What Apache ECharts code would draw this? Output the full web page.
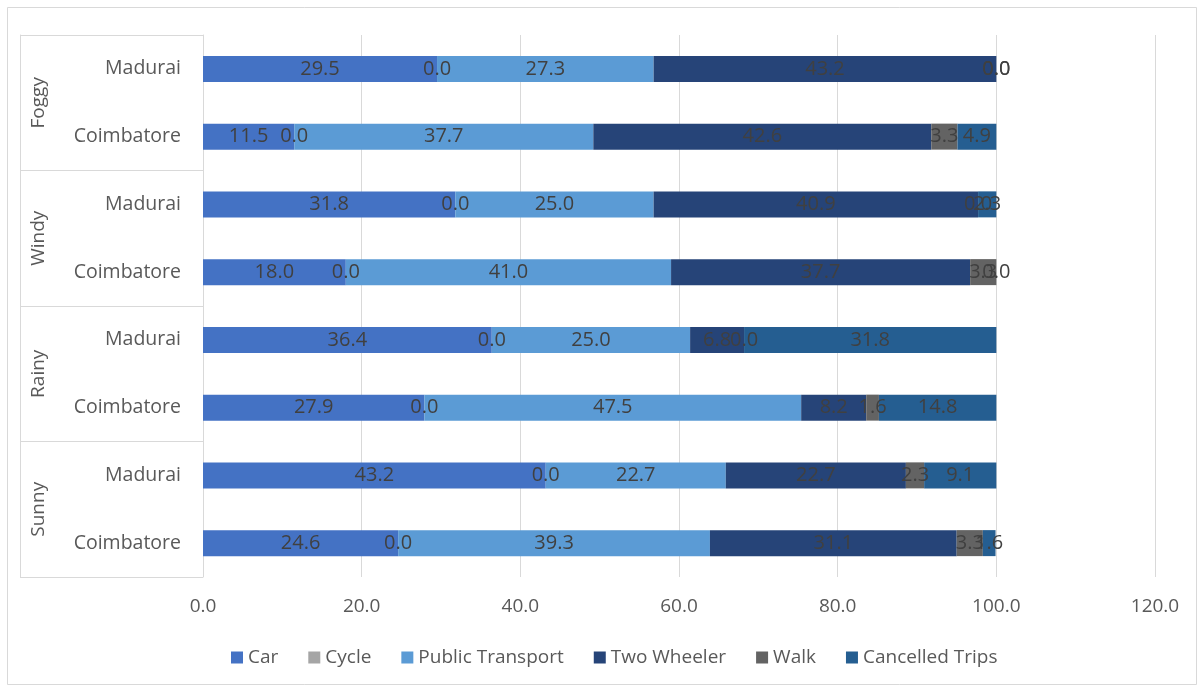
<!DOCTYPE html>
<html>
<head>
<meta charset="utf-8">
<script src="https://cdn.jsdelivr.net/npm/echarts@6/dist/echarts.min.js"></script>
<style>
  html, body { margin: 0; padding: 0; background: #fff; }
  #chart { width: 1203px; height: 689px; }
</style>
</head>
<body>
<div id="chart"></div>
<script>
// Rows from bottom to top: each weather group holds Coimbatore then Madurai
const cities = ['Coimbatore', 'Madurai', 'Coimbatore', 'Madurai', 'Coimbatore', 'Madurai', 'Coimbatore', 'Madurai'];
const weather = ['Sunny', 'Rainy', 'Windy', 'Foggy'];
const xTicks = [0, 20, 40, 60, 80, 100, 120];

// Mode share (%) per row
const car            = [24.6, 43.2, 27.9, 36.4, 18.0, 31.8, 11.5, 29.5];
const cycle          = [0.0, 0.0, 0.0, 0.0, 0.0, 0.0, 0.0, 0.0];
const publicTransport= [39.3, 22.7, 47.5, 25.0, 41.0, 25.0, 37.7, 27.3];
const twoWheeler     = [31.1, 22.7, 8.2, 6.8, 37.7, 40.9, 42.6, 43.2];
const walk           = [3.3, 2.3, 1.6, 0.0, 3.3, 0.0, 3.3, 0.0];
const cancelled      = [1.6, 9.1, 14.8, 31.8, 0.0, 2.3, 4.9, 0.0];

const seriesDefs = [
  { name: 'Car', data: car, color: '#4472C4' },
  { name: 'Cycle', data: cycle, color: '#A5A5A5' },
  { name: 'Public Transport', data: publicTransport, color: '#5B9BD5' },
  { name: 'Two Wheeler', data: twoWheeler, color: '#264478' },
  { name: 'Walk', data: walk, color: '#636363' },
  { name: 'Cancelled Trips', data: cancelled, color: '#255E91' }
];

const textFont = '"Open Sans", "Noto Sans", sans-serif';

const chart = echarts.init(document.getElementById('chart'), null, { renderer: 'canvas' });

chart.setOption({
  animation: false,
  backgroundColor: '#fff',
  color: seriesDefs.map(s => s.color),
  graphic: [{
    type: 'rect',
    shape: { x: 7.5, y: 7.5, width: 1189, height: 677 },
    style: { fill: 'none', stroke: '#d9d9d9', lineWidth: 1 },
    silent: true
  }],
  grid: { left: 203, right: 48, top: 35, bottom: 112, containLabel: false },
  legend: {
    top: 643,
    left: 226,
    itemWidth: 12,
    itemHeight: 12,
    itemGap: 30,
    icon: 'rect',
    textStyle: { color: '#595959', fontSize: 19, fontFamily: textFont },
    data: seriesDefs.map(s => s.name)
  },
  xAxis: {
    type: 'value',
    min: 0,
    max: 120,
    interval: 20,
    axisLine: { show: false },
    axisTick: { show: false },
    splitLine: { show: true, lineStyle: { color: '#d9d9d9', width: 1 } },
    axisLabel: {
      color: '#595959',
      fontSize: 19,
      fontFamily: textFont,
      margin: 20,
      customValues: xTicks,
      formatter: v => v.toFixed(1)
    }
  },
  yAxis: [
    {
      type: 'category',
      data: cities,
      axisLine: { show: true, lineStyle: { color: '#d9d9d9' } },
      axisTick: { show: false },
      axisLabel: { color: '#595959', fontSize: 19.5, fontFamily: textFont, margin: 22 }
    },
    {
      type: 'category',
      data: weather,
      position: 'left',
      offset: 183,
      axisLine: { show: true, lineStyle: { color: '#d9d9d9' } },
      axisTick: { show: true, inside: true, length: 183, lineStyle: { color: '#d9d9d9' } },
      axisLabel: { inside: true, rotate: 90, margin: 9, color: '#595959', fontSize: 19, fontFamily: textFont }
    }
  ],
  series: seriesDefs.map(s => ({
    name: s.name,
    type: 'bar',
    stack: 'share',
    yAxisIndex: 0,
    barWidth: 26,
    data: s.data,
    itemStyle: { color: s.color },
    label: {
      show: true,
      position: 'inside',
      color: '#404040',
      fontSize: 20,
      fontFamily: textFont,
      formatter: p => p.value.toFixed(1)
    },
    emphasis: { disabled: true }
  }))
});
</script>
</body>
</html>
